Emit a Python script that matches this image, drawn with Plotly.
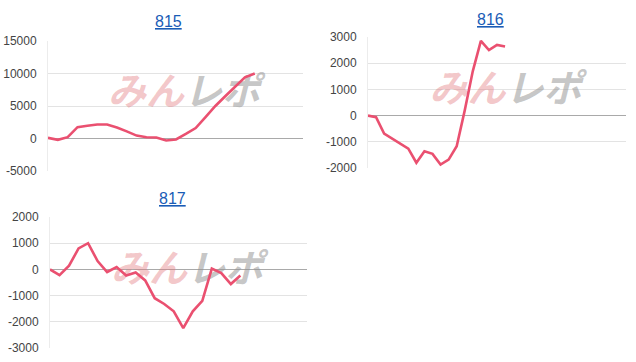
import plotly.graph_objects as go

# ---- data ----
titles = ["815", "816", "817"]
vals_815 = [100, -200, 200, 1750, 1950, 2150, 2150, 1700, 1100, 450, 200, 150, -300,
            -150, 700, 1600, 3300, 5000, 6500, 7900, 9400, 10000]
vals_816 = [0, -60, -690, -890, -1080, -1260, -1800, -1360, -1460, -1870, -1680, -1170,
            200, 1700, 2850, 2500, 2700, 2640]
vals_817 = [0, -220, 140, 800, 1000, 320, -100, 90, -230, -120, -420, -1100, -1320,
            -1600, -2240, -1600, -1200, 30, -140, -560, -230]
ticks_815 = [-5000, 0, 5000, 10000, 15000]
ticks_816 = [-2000, -1000, 0, 1000, 2000, 3000]
ticks_817 = [-3000, -2000, -1000, 0, 1000, 2000]
xmax = [25.9, 32.0, 27.0]

series = [vals_815, vals_816, vals_817]
tick_sets = [ticks_815, ticks_816, ticks_817]

# ---- layout geometry (pixels) ----
W, H = 636, 362
plots = [  # left, right, top, bottom
    (48, 303, 41, 171),
    (368, 626, 37, 168),
    (50, 307, 217, 348),
]
title_pos = [(168.5, 21.5), (490.3, 19.5), (172, 198.5)]

LINE = "#ea5070"
FONT = "Arial, Liberation Sans, sans-serif"

fig = go.Figure()
layout = dict(
    width=W, height=H, margin=dict(l=0, r=0, t=0, b=0, pad=0), autosize=False,
    paper_bgcolor="white", plot_bgcolor="white", showlegend=False,
    annotations=[],
)

wm_text = ("<b><i><span style='color:rgba(226,120,125,0.42)'>みん</span>"
           "<span style='color:rgba(150,150,150,0.55)'>レポ</span></i></b>")

for i, (vals, tks, (l, r, t, b)) in enumerate(zip(series, tick_sets, plots)):
    n = i + 1
    xa = "x" if n == 1 else f"x{n}"
    ya = "y" if n == 1 else f"y{n}"
    ymin, ymax = tks[0], tks[-1]
    # watermark, drawn beneath the line
    fig.add_trace(go.Scatter(
        x=[xmax[i] * 0.533], y=[ymin + (ymax - ymin) * 0.577],
        mode="text", text=[wm_text],
        textfont=dict(family="Noto Sans CJK JP", size=38, weight=900),
        xaxis=xa, yaxis=ya, hoverinfo="skip", cliponaxis=False))
    fig.add_trace(go.Scatter(
        x=list(range(len(vals))), y=vals, mode="lines",
        line=dict(color=LINE, width=2.6), xaxis=xa, yaxis=ya))
    layout[f"xaxis{n}"] = dict(
        domain=[l / W, r / W], range=[0, xmax[i]], showgrid=False,
        zeroline=False, showticklabels=False, showline=False,
        anchor=ya, fixedrange=True, automargin=False)
    layout[f"yaxis{n}"] = dict(
        domain=[1 - b / H, 1 - t / H], range=[ymin, ymax],
        tickvals=tks, ticktext=[str(v) for v in tks],
        showgrid=True, gridcolor="#e3e3e3", gridwidth=1,
        zeroline=True, zerolinecolor="#a9a9a9", zerolinewidth=1,
        showline=True, linecolor="#ececec", linewidth=1,
        ticks="", ticklabelstandoff=8,
        tickfont=dict(family=FONT, size=12, color="#444444"),
        anchor=xa, fixedrange=True, automargin=False)
    tx, ty = title_pos[i]
    layout["annotations"].append(dict(
        x=tx / W, y=1 - ty / H, xref="paper", yref="paper",
        text=f"<u>{titles[i]}</u>", showarrow=False,
        xanchor="center", yanchor="middle",
        font=dict(family=FONT, size=16, color="#1a5cb6")))

fig.update_layout(**layout)
fig.write_html("out.html")
